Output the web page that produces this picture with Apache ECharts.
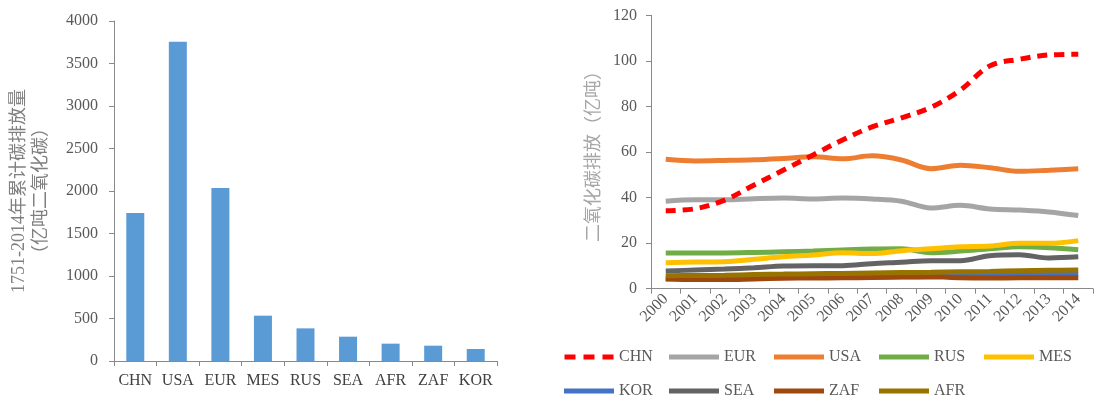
<!DOCTYPE html>
<html><head><meta charset="utf-8">
<script src="https://cdn.jsdelivr.net/npm/echarts@6/dist/echarts.min.js"></script>
<style>html,body{margin:0;padding:0;background:#fff}#c{width:1100px;height:398px}</style>
</head><body><div id="c"></div>
<script>
const barCats = ['CHN','USA','EUR','MES','RUS','SEA','AFR','ZAF','KOR'];
const cumulative = [1741,3757,2035,533,384,286,204,180,141];
const years = ['2000','2001','2002','2003','2004','2005','2006','2007','2008','2009','2010','2011','2012','2013','2014'];
const CHN = [34.2,35.1,38.9,45.5,52.1,58.7,65.3,71.0,75.0,79.6,87.2,97.8,100.7,102.6,102.9];
const EUR = [38.4,39.0,39.0,39.5,39.8,39.4,39.8,39.4,38.4,35.4,36.6,35.0,34.5,33.7,32.1];
const USA = [56.8,56.1,56.3,56.6,57.2,57.9,57.0,58.3,56.5,52.7,54.2,53.1,51.5,52.0,52.7];
const RUS = [15.7,15.7,15.7,15.9,16.2,16.5,17.0,17.4,17.5,15.8,16.5,17.5,18.4,18.0,17.1];
const MES = [11.4,11.7,11.8,12.9,14.0,14.8,15.8,15.4,16.7,17.5,18.4,18.7,19.9,19.9,21.1];
const KOR = [4.4,4.5,4.7,4.8,4.9,4.9,5.0,5.1,5.2,5.3,5.8,6.0,6.1,6.2,6.3];
const SEA = [7.8,8.2,8.6,9.2,10.0,10.1,10.1,11.0,11.6,12.3,12.3,14.5,14.9,13.5,14.0];
const ZAF = [4.3,4.0,4.0,4.3,4.6,4.7,4.8,4.9,5.1,5.2,4.8,4.7,4.8,4.8,4.8];
const AFR = [5.7,5.8,5.9,6.2,6.4,6.6,6.7,6.9,7.1,7.2,7.4,7.6,7.9,8.1,8.2];
const legendOrder = ['CHN','EUR','USA','RUS','MES','KOR','SEA','ZAF','AFR'];

const serif = "'Liberation Serif','Times New Roman',serif";
const cjk = "'Liberation Serif','Noto Sans CJK SC',serif";
const axisLine = {show:true, lineStyle:{color:'#898989', width:1}};
const axisTick = {show:true, length:5, lineStyle:{color:'#898989'}};
const plain = v => String(v);

const lineSeries = [
  ['CHN', CHN, '#FF0000', true],
  ['EUR', EUR, '#A5A5A5'],
  ['USA', USA, '#ED7D31'],
  ['RUS', RUS, '#70AD47'],
  ['MES', MES, '#FFC000'],
  ['KOR', KOR, '#4472C4'],
  ['SEA', SEA, '#636363'],
  ['ZAF', ZAF, '#9E480E'],
  ['AFR', AFR, '#997300']
].map(([name, data, color, dashed]) => ({
  name, type:'line', xAxisIndex:1, yAxisIndex:1, data,
  smooth:0.35, symbol:'none', z: dashed ? 5 : 2,
  itemStyle:{color},
  lineStyle:{color, width:5, type: dashed ? [10,7] : 'solid'}
}));

const dashIcon = 'path://M0,0h11v5h-11z M19,0h11v5h-11z M38,0h11v5h-11z';

const option = {
  animation:false,
  grid:[
    {left:114, right:603, top:21, bottom:37},
    {left:651, right:7, top:15.3, bottom:109.3}
  ],
  legend:{
    data: legendOrder.map(n => n === 'CHN' ? {name:n, icon:dashIcon} : {name:n, icon:'rect'}),
    left:559, top:343, width:520, orient:'horizontal',
    itemWidth:50, itemHeight:5, itemGap:16,
    textStyle:{fontFamily:serif, fontSize:16, color:'#595959', width:34, lineHeight:18}
  },
  xAxis:[
    {type:'category', gridIndex:0, data:barCats, axisLine, axisTick,
     axisLabel:{fontFamily:serif, fontSize:16, color:'#404040', margin:12, interval:0}},
    {type:'category', gridIndex:1, data:years, axisLine, axisTick,
     axisLabel:{fontFamily:serif, fontSize:16, color:'#595959', rotate:45, margin:8, interval:0}}
  ],
  yAxis:[
    {type:'value', gridIndex:0, min:0, max:4000, interval:500, splitLine:{show:false}, axisLine, axisTick,
     axisLabel:{fontFamily:serif, fontSize:16, color:'#595959', margin:16, formatter:plain},
     name:'1751-2014年累计碳排放量\n（亿吨二氧化碳）', nameLocation:'middle', nameGap:62, nameRotate:90,
     nameTextStyle:{fontFamily:cjk, fontSize:18, color:'#808080', lineHeight:22}},
    {type:'value', gridIndex:1, min:0, max:120, interval:20, splitLine:{show:false}, axisLine, axisTick,
     axisLabel:{fontFamily:serif, fontSize:16, color:'#595959', margin:14, formatter:plain},
     name:'二氧化碳排放（亿吨）', nameLocation:'middle', nameGap:48, nameRotate:90,
     nameTextStyle:{fontFamily:cjk, fontSize:18, color:'#A6A6A6'}}
  ],
  series:[
    {type:'bar', xAxisIndex:0, yAxisIndex:0, data:cumulative, barWidth:18,
     itemStyle:{color:'#5B9BD5'}}
  ].concat(lineSeries)
};
echarts.init(document.getElementById('c'), null, {renderer:'canvas'}).setOption(option);
</script></body></html>
